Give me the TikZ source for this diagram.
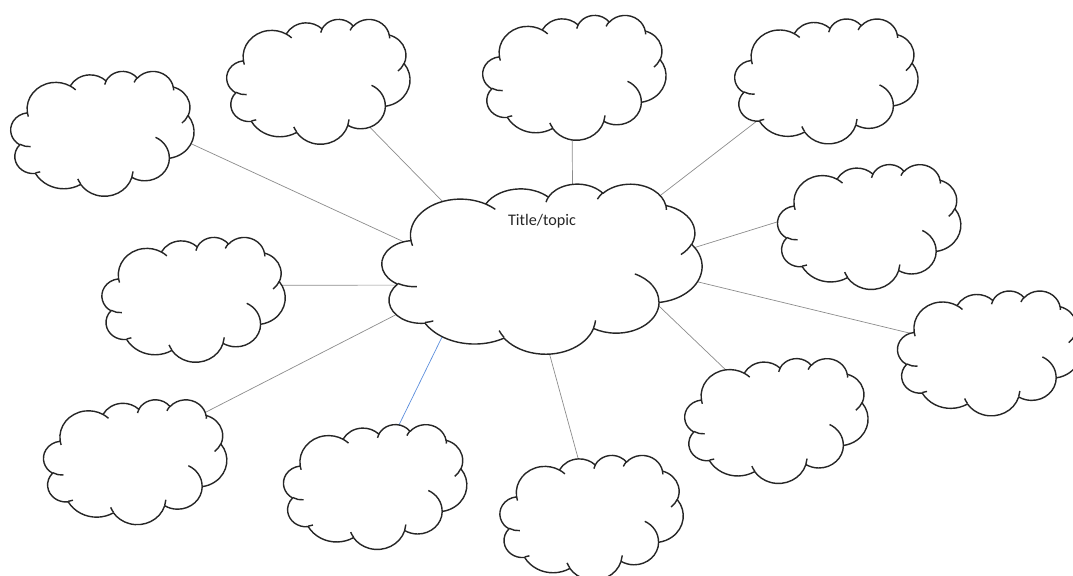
\documentclass[tikz,border=0pt]{standalone}
\usepackage{fontspec}
\setmainfont{Carlito}
\usetikzlibrary{shapes.geometric, backgrounds}

\tikzset{
  cloudline/.style={line width=1pt, draw=black!85, line join=round},
  spot/.style={ellipse, inner sep=0pt, minimum width=4.58cm, minimum height=3.12cm},
  hub/.style={spot, minimum width=8cm, minimum height=4.25cm},
  ideasize/.style={x=4.58cm, y=-3.12cm},
  hubsize/.style={x=8cm, y=-4.25cm},
  link/.style={draw=black!45, line width=0.5pt, shorten <=-14pt, shorten >=-14pt},
  pics/wordcloud/.style={code={
    % outline
    \filldraw[cloudline, fill=white] (-0.40972,-0.16736)
      arc[start angle=-187.745, delta angle=128.111, x radius=0.15632, y radius=0.21273]
      arc[start angle=-152.024, delta angle=106.552, x radius=0.12345, y radius=0.16822]
      arc[start angle=-153.482, delta angle=116.153, x radius=0.10104, y radius=0.13762]
      arc[start angle=-139.705, delta angle=129.494, x radius=0.11243, y radius=0.15266]
      arc[start angle=-74.765, delta angle=97.978, x radius=0.12345, y radius=0.16836]
      arc[start angle=-37.529, delta angle=119.388, x radius=0.15683, y radius=0.21343]
      arc[start angle=0.460, delta angle=121.511, x radius=0.13391, y radius=0.18211]
      arc[start angle=16.843, delta angle=129.405, x radius=0.15630, y radius=0.21331]
      arc[start angle=59.015, delta angle=91.152, x radius=0.17870, y radius=0.24405]
      arc[start angle=-276.698, delta angle=139.782, x radius=0.10093, y radius=0.13699]
      arc[start angle=-239.645, delta angle=143.756, x radius=0.10058, y radius=0.13762]
      -- cycle;
    % inner curls
    \draw[cloudline]
      (-0.39137,0.10595) arc[start angle=85.544, delta angle=34.811, x radius=0.10058, y radius=0.13762]
      (-0.33963,0.30785) arc[start angle=68.224, delta angle=15.078, x radius=0.10093, y radius=0.13699]
      (-0.11856,0.40486) arc[start angle=146.246, delta angle=12.229, x radius=0.15630, y radius=0.21331]
      (0.16729,0.30442) arc[start angle=4.737, delta angle=12.106, x radius=0.15630, y radius=0.21331]
      (0.29002,0.03134) arc[start angle=-63.980, delta angle=64.440, x radius=0.13391, y radius=0.18211]
      (0.46755,-0.14458) arc[start angle=23.213, delta angle=26.428, x radius=0.12345, y radius=0.16836]
      (0.38713,-0.37440) arc[start angle=-10.211, delta angle=11.032, x radius=0.11243, y radius=0.15266]
      (0.17310,-0.40852) arc[start angle=-156.284, delta angle=16.579, x radius=0.11243, y radius=0.15266]
      (0.01252,-0.39074) arc[start angle=-167.725, delta angle=14.243, x radius=0.10104, y radius=0.13762]
      (-0.17593,-0.37981) arc[start angle=-59.635, delta angle=13.904, x radius=0.15632, y radius=0.21273]
      (-0.40447,-0.13451) arc[start angle=163.194, delta angle=9.060, x radius=0.15632, y radius=0.21273];
  }}
}

\begin{document}
\begin{tikzpicture}
  \useasboundingbox (0,0) rectangle (26.825,14.375);

  % central cloud
  \node[hub] (topic) at (13.55,7.66) {};
  \pic[hubsize] at (topic) {wordcloud};
  \node[font=\fontsize{11.5}{13}\selectfont, text=black!85] (title) at ([yshift=1.19cm]topic.center) {Title/topic};

  % surrounding clouds
  \foreach \n/\p in {idea1/{2.56,11.04}, idea2/{7.96,12.34}, idea3/{14.36,12.44},
                     idea4/{20.66,12.35}, idea5/{21.73,8.71}, idea6/{24.73,5.55},
                     idea7/{19.41,3.86}, idea8/{14.79,1.44}, idea9/{9.38,2.21},
                     idea10/{3.38,2.83}, idea11/{4.84,6.89}} {
    \node[spot] (\n) at (\p) {};
    \pic[ideasize] at (\n) {wordcloud};
  }

  % connectors
  \begin{scope}[on background layer]
    \foreach \n/\a/\b in {idea1/168/-7, idea2/146/-42, idea3/70/-92, idea4/31/-150,
                          idea5/8/177, idea6/-5/166, idea7/-21/135, idea8/-85/103,
                          idea10/-163/36, idea11/-174/9}
      \draw[link] (topic.\a) -- (\n.\b);
    \draw[link, draw={rgb,255:red,91;green,141;blue,220}] (topic.-146) -- (idea9.69);
  \end{scope}
\end{tikzpicture}
\end{document}
